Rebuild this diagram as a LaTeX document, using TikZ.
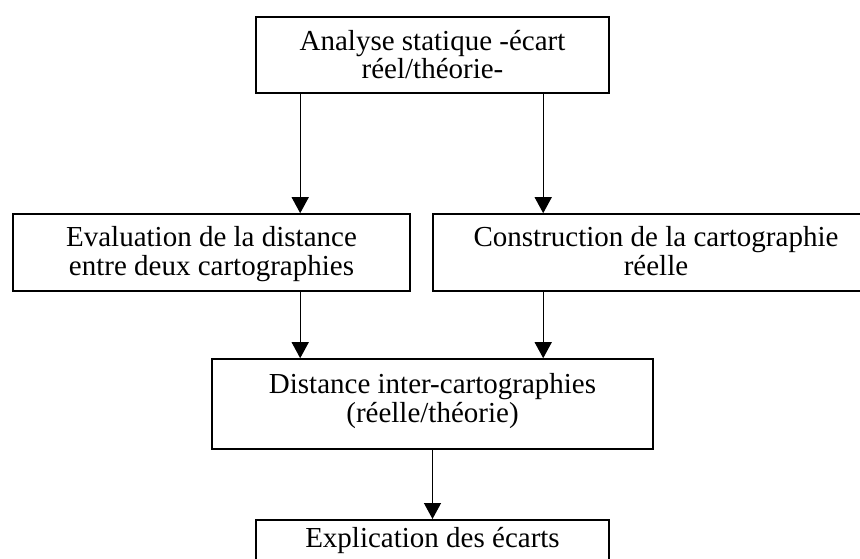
\documentclass[tikz,border=0pt]{standalone}
\usepackage{fontspec}
\setmainfont{Liberation Serif}
\usetikzlibrary{arrows.meta}
\begin{document}
\begin{tikzpicture}[x=1pt,y=-1pt,
  box/.style={draw,line width=1.6pt,rectangle,inner sep=0pt},
  txt/.style={anchor=base,inner sep=0pt,font=\fontsize{29}{29}\selectfont},
  arr/.style={line width=1.3pt,-{Triangle[length=16pt,width=17pt]}}]
\useasboundingbox (0,0) rectangle (860,559);
\begin{scope}
\clip (0,0) rectangle (860,559);
\node[box,minimum width=353,minimum height=76] (b1) at (432.5,55) {};
\node[box,minimum width=397,minimum height=77] (b2) at (211.5,252.5) {};
\node[box,minimum width=446,minimum height=77] (b3) at (656,252.5) {};
\node[box,minimum width=441,minimum height=90] (b4) at (432.5,404) {};
\node[box,minimum width=353,minimum height=76,anchor=north] (b5) at (432.5,519) {};
\node[txt] (t1a) at (432.5,50.5) {Analyse statique -écart};
\node[txt] (t1b) at (432.5,79) {réel/théorie-};
\node[txt] (t2a) at (211.5,247) {Evaluation de la distance};
\node[txt] (t2b) at (211.5,275) {entre deux cartographies};
\node[txt] (t3a) at (656,247) {Construction de la cartographie};
\node[txt] (t3b) at (656,275) {réelle};
\node[txt] (t4a) at (432.5,393) {Distance inter-cartographies};
\node[txt] (t4b) at (432.5,422) {(réelle/théorie)};
\node[txt] (t5a) at (432.5,547) {Explication des écarts};
\end{scope}
\coordinate (a1) at ([xshift=45]b1.south west);
\coordinate (a2) at ([xshift=288]b1.south west);
\coordinate (a3) at ([xshift=288]b2.south west);
\coordinate (a4) at ([xshift=111]b3.south west);
\draw[arr] (a1) -- (a1 |- b2.north);
\draw[arr] (a2) -- (a2 |- b3.north);
\draw[arr] (a3) -- (a3 |- b4.north);
\draw[arr] (a4) -- (a4 |- b4.north);
\draw[arr] (b4.south) -- (b5.north);
\end{tikzpicture}
\end{document}
